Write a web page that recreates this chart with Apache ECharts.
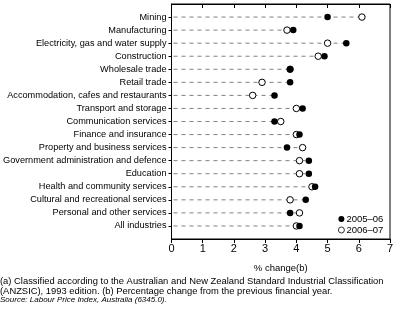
<!DOCTYPE html>
<html>
<head>
<meta charset="utf-8">
<script src="https://cdn.jsdelivr.net/npm/echarts@6/dist/echarts.min.js"></script>
<style>
  html, body { margin: 0; padding: 0; background: #fff; }
  #chart { width: 397px; height: 321px; }
</style>
</head>
<body>
<div id="chart"></div>
<script>
// industries, top to bottom
var categories = ['Mining', 'Manufacturing', 'Electricity, gas and water supply', 'Construction',
  'Wholesale trade', 'Retail trade', 'Accommodation, cafes and restaurants', 'Transport and storage',
  'Communication services', 'Finance and insurance', 'Property and business services',
  'Government administration and defence', 'Education', 'Health and community services',
  'Cultural and recreational services', 'Personal and other services', 'All industries'];
// % change
var y2005 = [5.0, 3.9, 5.6, 4.9, 3.8, 3.8, 3.3, 4.2, 3.3, 4.1, 3.7, 4.4, 4.4, 4.6, 4.3, 3.8, 4.1];
var y2006 = [6.1, 3.7, 5.0, 4.7, 3.8, 2.9, 2.6, 4.0, 3.5, 4.0, 4.2, 4.1, 4.1, 4.5, 3.8, 4.1, 4.0];
var xTicks = [0, 1, 2, 3, 4, 5, 6, 7];

var rows = categories.map(function (c, i) { return i; });
var font = 'Arial, "Liberation Sans", sans-serif';

var chart = echarts.init(document.getElementById('chart'));
chart.setOption({
  animation: false,
  grid: {
    left: 171.5, right: 7, top: 4, bottom: 82,
    outerBoundsMode: 'none', containLabel: false,
    show: true, borderColor: '#000', borderWidth: 1
  },
  legend: {
    orient: 'vertical', left: 333, top: 209,
    itemWidth: 6, itemHeight: 6, itemGap: 1,
    textStyle: { fontFamily: font, fontSize: 9.5, color: '#000', padding: [0, 0, 0, -3] },
    data: [
      { name: '2005–06', icon: 'circle', itemStyle: { color: '#000', borderWidth: 0 } },
      { name: '2006–07', icon: 'circle', itemStyle: { color: '#fff', borderColor: '#000', borderWidth: 0.8 } }
    ]
  },
  xAxis: [{
    type: 'value', min: 0, max: 7, interval: 1, position: 'bottom',
    name: '% change(b)', nameLocation: 'middle', nameGap: 24,
    nameTextStyle: { fontFamily: font, fontSize: 9.5, color: '#000' },
    axisLine: { show: true, onZero: false, lineStyle: { color: '#000' } },
    axisTick: { show: true, length: 4, lineStyle: { color: '#000' } },
    axisLabel: { fontFamily: font, fontSize: 11, color: '#000', margin: 4,
      customValues: xTicks },
    splitLine: { show: false }
  }, {
    type: 'value', min: 0, max: 7, interval: 1, position: 'top',
    axisLine: { show: true, onZero: false, lineStyle: { color: '#000' } },
    axisTick: { show: true, inside: true, length: 4, lineStyle: { color: '#000' } },
    axisLabel: { show: false },
    splitLine: { show: false }
  }],
  yAxis: {
    type: 'value', min: -1, max: 17, inverse: true,
    axisLine: { show: true, onZero: false, lineStyle: { color: '#000' } },
    axisTick: { show: true, length: 3, customValues: rows, lineStyle: { color: '#000' } },
    axisLabel: {
      fontFamily: font, fontSize: 9.2, color: '#000', margin: 5,
      customValues: rows,
      formatter: function (v) { return categories[v] || ''; }
    },
    splitLine: { show: false }
  },
  series: [{
    type: 'custom',
    silent: true,
    data: rows.map(function (i) { return [Math.max(y2005[i], y2006[i]), i]; }),
    renderItem: function (params, api) {
      var a = api.coord([0, api.value(1)]);
      var b = api.coord([api.value(0), api.value(1)]);
      return {
        type: 'line',
        shape: { x1: a[0] + 2, y1: a[1], x2: b[0], y2: b[1] },
        style: { stroke: '#808080', lineWidth: 1, lineDash: [4, 4] }
      };
    },
    z: 1
  }, {
    name: '2006–07', type: 'scatter', symbol: 'circle', symbolSize: 6.5,
    itemStyle: { color: '#fff', borderColor: '#000', borderWidth: 1, opacity: 1 },
    data: rows.map(function (i) { return [y2006[i], i]; }),
    z: 3
  }, {
    name: '2005–06', type: 'scatter', symbol: 'circle', symbolSize: 6.5,
    itemStyle: { color: '#000', opacity: 1 },
    data: rows.map(function (i) { return [y2005[i], i]; }),
    z: 4
  }],
  graphic: [{
    type: 'text', left: 0, top: 276,
    style: {
      text: '(a) Classified according to the Australian and New Zealand Standard Industrial Classification\n(ANZSIC), 1993 edition. (b) Percentage change from the previous financial year.',
      font: '9.4px ' + font, fill: '#000', lineHeight: 10.5
    }
  }, {
    type: 'text', left: 0, top: 296,
    style: {
      text: 'Source: Labour Price Index, Australia (6345.0).',
      font: 'italic 8px ' + font, fill: '#000'
    }
  }]
});
</script>
</body>
</html>
